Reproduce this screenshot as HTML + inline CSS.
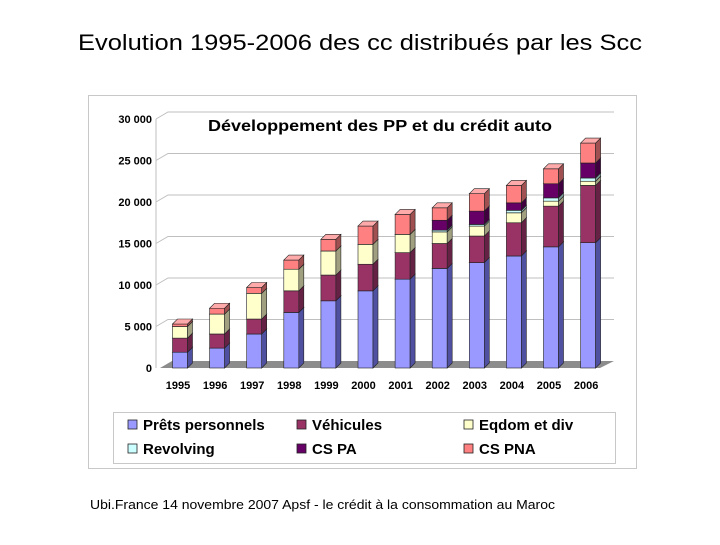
<!DOCTYPE html>
<html><head><meta charset="utf-8"><style>
body{margin:0;width:720px;height:540px;background:#fff;overflow:hidden;font-family:"Liberation Sans",sans-serif;}
</style></head><body>
<svg width="720" height="540" xmlns="http://www.w3.org/2000/svg" font-family="Liberation Sans, sans-serif">
<text x="78" y="50" font-size="22" textLength="564" lengthAdjust="spacingAndGlyphs">Evolution 1995-2006 des cc distribués par les Scc</text>
<rect x="88.5" y="95.5" width="548" height="373" fill="#fff" stroke="#c8c8c8"/>
<text x="208" y="131" font-size="16" font-weight="bold" textLength="344" lengthAdjust="spacingAndGlyphs">Développement des PP et du crédit auto</text>
<g id="plot"></g>
<rect x="113.5" y="412.5" width="502" height="51" fill="#fff" stroke="#c8c8c8"/>
<g id="legend" font-size="15" font-weight="bold"></g>
<text x="90" y="509" font-size="13" textLength="465" lengthAdjust="spacingAndGlyphs">Ubi.France 14 novembre 2007  Apsf - le crédit à la consommation au Maroc</text>
</svg>
<script>
const years=["1995","1996","1997","1998","1999","2000","2001","2002","2003","2004","2005","2006"];
const seriesNames=["Prêts personnels","Véhicules","Eqdom et div","Revolving","CS PA","CS PNA"];
const pretsPersonnels=[1900,2400,4100,6700,8100,9300,10700,12000,12700,13500,14600,15100];
const vehicules=[1700,1700,1800,2600,3100,3200,3200,3000,3200,4000,4900,6900];
const eqdom=[1400,2400,3100,2600,2900,2400,2200,1400,1200,1200,600,500];
const revolving=[0,0,0,0,0,0,0,200,200,300,400,400];
const csPA=[0,0,0,0,0,0,0,1200,1600,900,1700,1800];
const csPNA=[300,700,700,1100,1400,2200,2400,1500,2100,2100,1800,2400];
const yTicks=[0,5000,10000,15000,20000,25000,30000];
const yTickLabels=["0","5 000","10 000","15 000","20 000","25 000","30 000"];
const series=[pretsPersonnels,vehicules,eqdom,revolving,csPA,csPNA];
const fronts=["#9999ff","#993366","#ffffcc","#ccffff","#660066","#ff8080"];
const sides=["#5050a0","#662244","#a0a080","#80a0a0","#400040","#a05050"];
const tops=["#b8b8ff","#b8668a","#ffffe6","#e6ffff","#884488","#ffaaaa"];
const NS="http://www.w3.org/2000/svg";
const X0=164,X1=600,Y0=368,Ypx=0.0083,DX=8,DY=7;
const y=v=>Y0-v*Ypx;
const xc=i=>180+i*37.1;
const plot=document.getElementById('plot');
function mk(tag,attrs,parent){const e=document.createElementNS(NS,tag);for(const k in attrs)e.setAttribute(k,attrs[k]);(parent||plot).appendChild(e);return e;}
let f=mk('polygon',{points:`${X0-4},${Y0} ${X1},${Y0} ${X1+DX+6},${Y0-DY} ${X0+DX},${Y0-DY}`,fill:'#8c8c8c'});


yTicks.forEach((t,i)=>{
  const yy=y(t);
  if(i>0){
    let g=mk('polyline',{points:`${X0-8},${yy} ${X0+DX-4},${yy-DY} ${X1+DX+6},${yy-DY}`,fill:'none',stroke:'#bfbfbf','stroke-width':1});
    
    
  }
  let tx=mk('text',{x:152,y:yy+4,'text-anchor':'end','font-size':11,'font-weight':'bold'});
  tx.textContent=yTickLabels[i];
  
  
});
let ax=mk('line',{x1:X0-8,y1:y(30000),x2:X0-8,y2:Y0,stroke:'#bfbfbf'});


const W=15,D=5;
years.forEach((yr,i)=>{
  let cum=0;const xl=xc(i)-W/2;
  series.forEach((s,k)=>{
    const v=s[i];if(v<=0)return;
    const yb=y(cum),yt=y(cum+v);cum+=v;
    const g=mk('g',{});
    
    
    mk('rect',{x:xl,y:yt,width:W,height:yb-yt,fill:fronts[k],stroke:'#222','stroke-width':0.6},g);
    mk('polygon',{points:`${xl+W},${yb} ${xl+W+D},${yb-D} ${xl+W+D},${yt-D} ${xl+W},${yt}`,fill:sides[k],stroke:'#222','stroke-width':0.6},g);
    mk('polygon',{points:`${xl},${yt} ${xl+D},${yt-D} ${xl+W+D},${yt-D} ${xl+W},${yt}`,fill:tops[k],stroke:'#222','stroke-width':0.6},g);
  });
  let t=mk('text',{x:xc(i)-2,y:389,'text-anchor':'middle','font-size':11,'font-weight':'bold'});
  t.textContent=yr;
  
  
});
const leg=document.getElementById('legend');
const lx=[134,303,470],ly=[425,449];
seriesNames.forEach((n,k)=>{
  const cx=lx[k%3],cy=ly[Math.floor(k/3)];
  const g=mk('g',{},leg);
  
  
  mk('rect',{x:cx-6,y:cy-5,width:9,height:9,fill:fronts[k],stroke:'#222','stroke-width':0.8},g);
  const t=mk('text',{x:cx+9,y:cy+5},g);t.textContent=n;
});
</script>
</body></html>
